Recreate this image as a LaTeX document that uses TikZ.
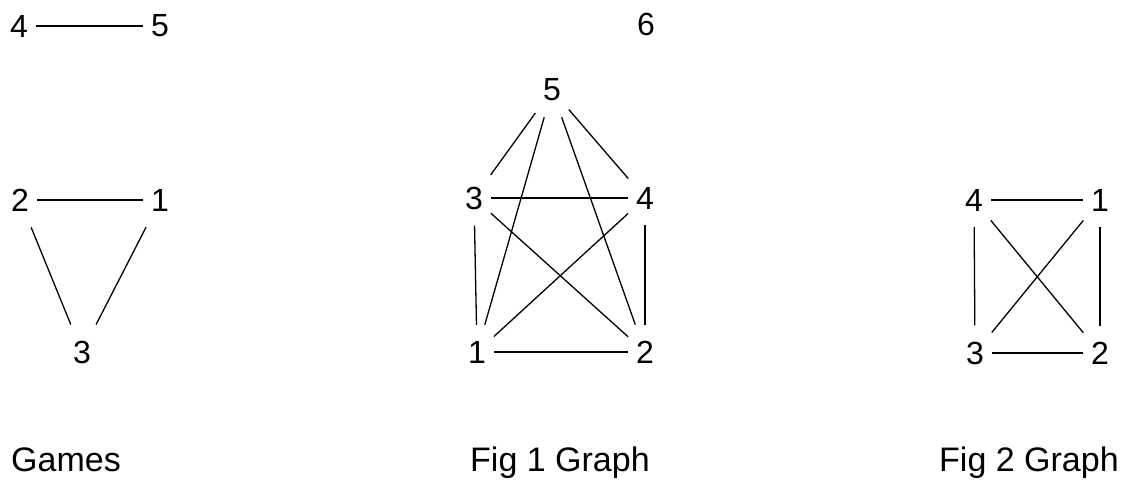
\documentclass[tikz,border=0pt]{standalone}
\usepackage{fontspec}
\setmainfont{Liberation Sans}

\begin{document}
\begin{tikzpicture}[
    x=1pt,
    y=-1pt,
    num/.style={
        font=\fontsize{32}{32}\selectfont,
        inner xsep=7pt,
        inner ysep=15pt
    },
    caption/.style={
        font=\fontsize{34}{34}\selectfont,
        anchor=base west,
        inner sep=0pt
    },
    edge/.style={
        line width=1.3pt,
        shorten >=1pt,
        shorten <=1pt
    }
]
\useasboundingbox (0,0) rectangle (1131,480);

% Games
\node[num] (g4) at (19,26) {4};
\node[num] (g5) at (160,26) {5};
\node[num] (g2) at (20,200) {2};
\node[num] (g1) at (160,200) {1};
\node[num] (g3) at (82,352) {3};

\node[caption] (games) at (11,471) {Games};

\draw[edge] (g4) -- (g5);
\draw[edge] (g2) -- (g1);
\draw[edge] (g2) -- (g3);
\draw[edge] (g1) -- (g3);

% Fig 1 Graph
\node[num] (a6) at (646,24) {6};
\node[num] (a5) at (552,90) {5};
\node[num] (a3) at (474,198) {3};
\node[num] (a4) at (645,198) {4};
\node[num] (a1) at (477,352) {1};
\node[num] (a2) at (645,352) {2};

\node[caption] (fig1) at (470,471) {Fig 1 Graph};

\draw[edge] (a5) -- (a3);
\draw[edge] (a5) -- (a4);
\draw[edge] (a5) -- (a1);
\draw[edge] (a5) -- (a2);
\draw[edge] (a3) -- (a4);
\draw[edge] (a3) -- (a2);
\draw[edge] (a4) -- (a1);
\draw[edge] (a3) -- (a1);
\draw[edge] (a4) -- (a2);
\draw[edge] (a1) -- (a2);

% Fig 2 Graph
\node[num] (b4) at (974,200) {4};
\node[num] (b1) at (1100,200) {1};
\node[num] (b3) at (975,353) {3};
\node[num] (b2) at (1100,353) {2};

\node[caption] (fig2) at (939,471) {Fig 2 Graph};

\draw[edge] (b4) -- (b1);
\draw[edge] (b3) -- (b2);
\draw[edge] (b4) -- (b3);
\draw[edge] (b1) -- (b2);
\draw[edge] (b4) -- (b2);
\draw[edge] (b1) -- (b3);
\end{tikzpicture}
\end{document}
